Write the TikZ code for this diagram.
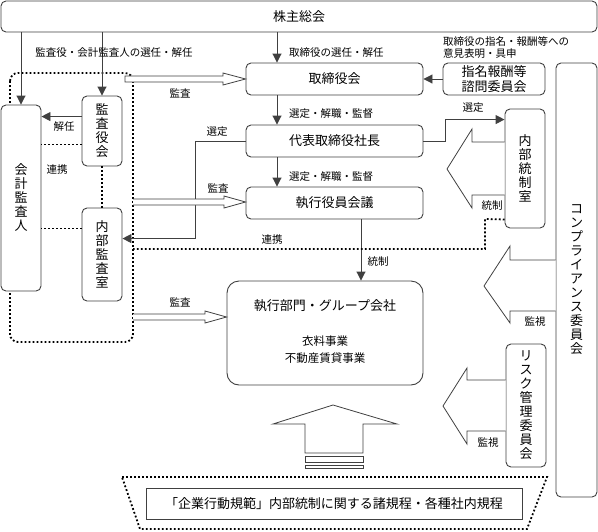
\documentclass[tikz,border=0pt]{standalone}
\usepackage{fontspec}
\setmainfont{Noto Sans CJK JP}
\usetikzlibrary{arrows.meta}
\definecolor{ln}{HTML}{404040}
\begin{document}
\begin{tikzpicture}[x=1pt,y=-1pt,
  box/.style={draw=ln, line width=0.9pt, rounded corners=5pt, fill=white,
    font=\fontsize{13}{14}\selectfont, align=center, inner sep=0pt},
  lbl/.style={font=\fontsize{10.5}{12}\selectfont, inner sep=1pt},
  sub/.style={font=\fontsize{11.5}{13}\selectfont, inner sep=0pt},
  arr/.style={draw=ln, line width=0.9pt, -{Triangle[length=9pt,width=9pt]}},
  dotl/.style={draw=black, line width=1.8pt, dash pattern=on 1.8pt off 2.2pt},
  hol/.style={draw=ln, line width=0.8pt, fill=white, line join=miter}
]
\useasboundingbox (0,0) rectangle (598,531);

% dotted group around audit bodies
\draw[dotl, rounded corners=8pt] (10,73) rectangle (133,342);

% nodes
\node[box, minimum width=596pt, minimum height=31pt] (agm) at (299,16.5) {株主総会};
\node[box, minimum width=40pt, minimum height=186pt] (kaikei) at (21,198) {会\\計\\監\\査\\人};
\node[box, minimum width=40pt, minimum height=70pt] (kansayaku) at (102,131) {監\\査\\役\\会};
\node[box, minimum width=40pt, minimum height=93pt] (naibukansa) at (102,254.5) {内\\部\\監\\査\\室};
\node[box, minimum width=177pt, minimum height=32pt] (torishimari) at (334.5,79) {取締役会};
\node[box, minimum width=102pt, minimum height=32pt, font=\fontsize{13}{15}\selectfont] (shimei) at (494,79) {指名報酬等\\諮問委員会};
\node[box, minimum width=177pt, minimum height=32pt] (shacho) at (334.5,141) {代表取締役社長};
\node[box, minimum width=177pt, minimum height=32pt] (shikko) at (334.5,203) {執行役員会議};
\node[box, minimum width=40pt, minimum height=119pt] (naibutosei) at (525,168.5) {内\\部\\統\\制\\室};
\node[box, minimum width=196pt, minimum height=104pt, rounded corners=12pt] (bumon) at (325,333) {};
\node[box, minimum width=41pt, minimum height=434pt] (comp) at (576.5,280) {コ\\ン\\プ\\ラ\\イ\\ア\\ン\\ス\\委\\員\\会};
\node[box, minimum width=40pt, minimum height=123pt] (risk) at (526,405.5) {リ\\ス\\ク\\管\\理\\委\\員\\会};

\node[font=\fontsize{13}{14}\selectfont, inner sep=0pt] (bumont) at (325,306) {執行部門・グループ会社};
\node[sub] (bumon1) at (325,341) {衣料事業};
\node[sub] (bumon2) at (325,358) {不動産賃貸事業};

% column coordinates
\coordinate (c1) at (277,0);
\coordinate (c2) at (361,0);

% shareholder arrows
\draw[arr] (agm.south -| kaikei.north) -- (kaikei.north);
\draw[arr] (agm.south -| kansayaku.north) -- (kansayaku.north);
\draw[arr] (agm.south -| c1) -- (torishimari.north -| c1);
\draw[arr] (torishimari.south -| c1) -- (shacho.north -| c1);
\draw[arr] (shacho.south -| c1) -- (shikko.north -| c1);
\draw[arr] (shikko.south -| c2) -- (bumon.north -| c2);
\draw[arr] (shimei.west) -- (torishimari.east);

% audit board to auditor
\draw[arr] ([yshift=-21pt]kansayaku.north west) coordinate (k1) -- (k1 -| kaikei.east);
\draw[dotl] ([yshift=-49pt]kansayaku.north west) coordinate (k2) -- (k2 -| kaikei.east);
\draw[dotl] ([yshift=-21pt]naibukansa.north west) coordinate (k3) -- (k3 -| kaikei.east);
\draw[dotl] (kansayaku.south) -- (naibukansa.north);

% president selections
\draw[arr] (shacho.west) -- ++(-50,0) |- ([yshift=-31pt]naibukansa.north east);
\draw[arr] (shacho.east) -- ++(22,0) |- ([yshift=-11pt]naibutosei.north west);

% hollow audit arrows
\draw[hol] (125,76) -- (223,76) -- (223,73) -- (torishimari.west |- 0,79) -- (223,85) -- (223,82) -- (125,82) -- cycle;
\draw[hol] (133,199) -- (224,199) -- (224,196) -- (shikko.west |- 0,202) -- (224,208) -- (224,205) -- (133,205);
\draw[hol] (133,314) -- (205,314) -- (205,311) -- (bumon.west |- 0,317) -- (205,323) -- (205,320) -- (133,320);

% dotted link from internal control office
\draw[dotl] ([yshift=9pt]naibutosei.south west) -- (485,219) -- (485,249) -- (133,249);

% big hollow arrows
\draw[hol] (naibutosei.west |- 0,142) -- (472,142) -- (472,129) -- (447,169) -- (472,208) -- (472,195) -- (naibutosei.west |- 0,195);
\draw[hol] (comp.west |- 0,260) -- (510,260) -- (510,246) -- (484,286) -- (510,323) -- (510,311) -- (comp.west |- 0,311);
\draw[hol] (risk.west |- 0,380) -- (467,380) -- (467,368) -- (443,406) -- (467,444) -- (467,431) -- (risk.west |- 0,431);

% big up arrow
\draw[hol] (305,453) -- (305,424) -- (273,424) -- (333,405) -- (397,424) -- (363,424) -- (363,453) -- cycle;
\draw[hol] (305,456) rectangle (363,462);
\draw[hol] (305,465) rectangle (363,468);

% rules block
\draw[dotl] (122,477) -- (547,477) -- (527,529) -- (140,529) -- cycle;
\node[draw=ln, line width=0.9pt, fill=white, minimum width=376pt, minimum height=31pt, inner sep=0pt,
  font=\fontsize{13}{14}\selectfont] (kitei) at (334,503.5) {「企業行動規範」内部統制に関する諸規程・各種社内規程};

% labels
\node[lbl] (l1) at (114,53) {監査役・会計監査人の選任・解任};
\node[lbl] (l2) at (64,127) {解任};
\node[lbl] (l3) at (57,170) {連携};
\node[lbl] (l4) at (180,93) {監査};
\node[lbl] (l5) at (218,188) {監査};
\node[lbl] (l6) at (180,302) {監査};
\node[lbl, anchor=west] (l7) at (288,53) {取締役の選任・解任};
\node[lbl, anchor=west] (l8) at (442,41) {取締役の指名・報酬等への};
\node[lbl, anchor=west] (l9) at (442,54) {意見表明・具申};
\node[lbl, anchor=west] (l10) at (288,114) {選定・解職・監督};
\node[lbl, anchor=west] (l11) at (288,177) {選定・解職・監督};
\node[lbl] (l12) at (217,132) {選定};
\node[lbl] (l13) at (473,108) {選定};
\node[lbl] (l14) at (492,206) {統制};
\node[lbl] (l15) at (272,240) {連携};
\node[lbl] (l16) at (378,262) {統制};
\node[lbl] (l17) at (535,322) {監視};
\node[lbl] (l18) at (488,443) {監視};
\end{tikzpicture}
\end{document}
